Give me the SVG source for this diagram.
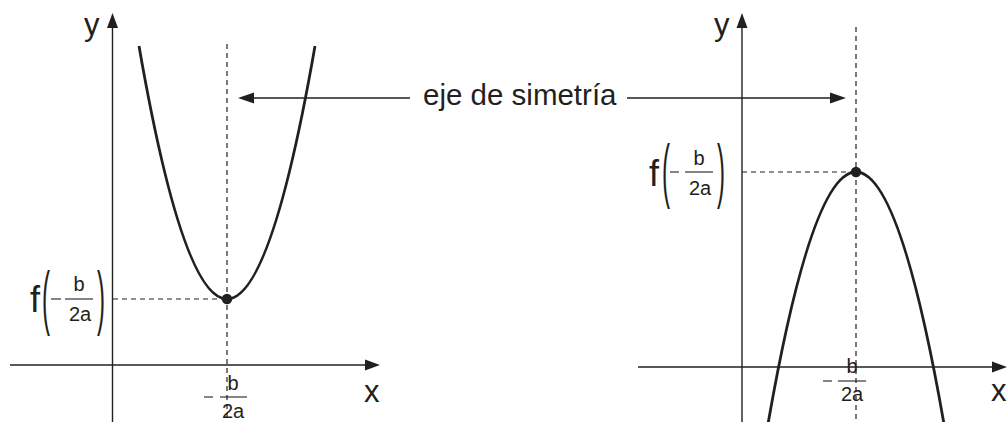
<svg xmlns="http://www.w3.org/2000/svg" width="1007" height="422" viewBox="0 0 1007 422">
<style>
text{font-family:"Liberation Sans",Arial,sans-serif;fill:#231f20}
.ax{stroke:#231f20;stroke-width:1.4;fill:none}
.dash{stroke:#231f20;stroke-width:1.2;stroke-dasharray:5 4;fill:none}
.curve{stroke:#231f20;stroke-width:2.8;fill:none}
.frac{stroke:#231f20;stroke-width:1.1}
.ah{fill:#231f20}
.lbl{font-size:31px}
.f{font-size:36px}
.fr{font-size:20px}
.par{font-size:20px}
</style>
<rect width="1007" height="422" fill="#fff"/>
<g id="left-graph">
  <line class="ax" x1="10" y1="365" x2="368" y2="365"/>
  <polygon class="ah" points="380,365 365,359.5 365,370.5"/>
  <line class="ax" x1="112.5" y1="422" x2="112.5" y2="25"/>
  <polygon class="ah" points="112.5,13 107,28 118,28"/>
  <text class="lbl" x="84" y="35">y</text>
  <text class="lbl" x="364" y="402">x</text>
  <line class="dash" x1="227" y1="44" x2="227" y2="422"/>
  <line class="dash" x1="113" y1="299" x2="227" y2="299"/>
  <path class="curve" d="M139,46 Q227,552 315,46"/>
  <circle class="ah" cx="227" cy="299" r="5.2"/>
  <g id="left-vertex-label">
    <text class="f" x="30" y="312">f</text>
    <text class="par" transform="translate(42,321) scale(1.2,3.5)">(</text>
    <line class="frac" x1="51" y1="299" x2="61" y2="299"/>
    <line class="frac" x1="65" y1="299" x2="93" y2="299"/>
    <text class="fr" x="79" y="291" text-anchor="middle">b</text>
    <text class="fr" x="80" y="321" text-anchor="middle">2a</text>
    <text class="par" transform="translate(97,321) scale(1.2,3.5)">)</text>
  </g>
  <g id="left-x-label">
    <line class="frac" x1="204" y1="397" x2="213" y2="397"/>
    <line class="frac" x1="220" y1="397" x2="247" y2="397"/>
    <text class="fr" x="233" y="390" text-anchor="middle">b</text>
    <text class="fr" x="233" y="418" text-anchor="middle">2a</text>
  </g>
</g>
<g id="right-graph">
  <line class="ax" x1="638" y1="367" x2="994" y2="367"/>
  <polygon class="ah" points="1007,367 992,361.5 992,372.5"/>
  <line class="ax" x1="742" y1="422" x2="742" y2="25"/>
  <polygon class="ah" points="742,13 736.5,28 747.5,28"/>
  <text class="lbl" x="714" y="35">y</text>
  <text class="lbl" x="991" y="401">x</text>
  <line class="dash" x1="856" y1="27" x2="856" y2="422"/>
  <line class="dash" x1="742" y1="172" x2="856" y2="172"/>
  <path class="curve" d="M768,424 Q856,-80 944,424"/>
  <circle class="ah" cx="856" cy="172" r="5.2"/>
  <g id="right-vertex-label">
    <text class="f" x="649" y="186">f</text>
    <text class="par" transform="translate(662,194) scale(1.2,3.5)">(</text>
    <line class="frac" x1="670" y1="172" x2="679" y2="172"/>
    <line class="frac" x1="685" y1="172" x2="713" y2="172"/>
    <text class="fr" x="699" y="165" text-anchor="middle">b</text>
    <text class="fr" x="700" y="195" text-anchor="middle">2a</text>
    <text class="par" transform="translate(717,194) scale(1.2,3.5)">)</text>
  </g>
  <g id="right-x-label">
    <line class="frac" x1="823" y1="381" x2="832" y2="381"/>
    <line class="frac" x1="838" y1="381" x2="866" y2="381"/>
    <text class="fr" x="852" y="373" text-anchor="middle">b</text>
    <text class="fr" x="852" y="401" text-anchor="middle">2a</text>
  </g>
</g>
<g id="symmetry-label">
  <text x="423" y="105" style="font-size:29.5px">eje de simetría</text>
</g>
<g id="connectors">
  <line class="ax" x1="410" y1="98" x2="250" y2="98"/>
  <polygon class="ah" points="238,98 254,92.5 254,103.5"/>
  <line class="ax" x1="627" y1="98" x2="834" y2="98"/>
  <polygon class="ah" points="846,98 830,92.5 830,103.5"/>
</g>
</svg>
